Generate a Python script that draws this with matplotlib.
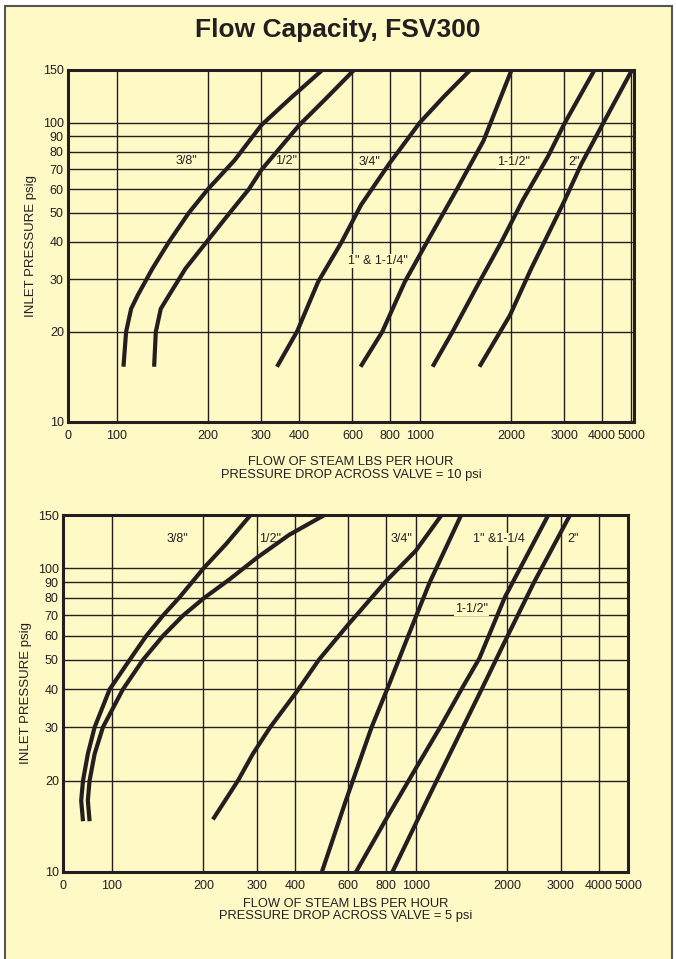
import matplotlib
matplotlib.use('Agg')
import matplotlib.pyplot as plt
from matplotlib.patches import Rectangle

# =============================================================================
#  Data (flow lbs/h, inlet pressure psig)
# =============================================================================
x_ticks = [69, 100, 200, 300, 400, 600, 800, 1000, 2000, 3000, 4000, 5000]
x_tick_labels = ['0', '100', '200', '300', '400', '600', '800', '1000',
                 '2000', '3000', '4000', '5000']
y_ticks = [10, 20, 30, 40, 50, 60, 70, 80, 90, 100, 150]
y_tick_labels = [str(v) for v in y_ticks]

# --- pressure drop 10 psi ---
top_38_flow = [105.2, 107.3, 111.5, 117.2, 131.2, 148.7, 172.9, 200, 244.8, 300, 374, 477]
top_38_pres = [15.3, 20, 23.9, 26.5, 32.6, 40, 50, 60, 74.9, 98.1, 120.6, 150]
top_12_flow = [132.8, 134.5, 139.7, 148.7, 168.7, 198, 236, 273, 300, 400, 491, 607]
top_12_pres = [15.3, 20, 23.9, 26.5, 32.6, 40, 50, 60, 69.5, 98.1, 120.6, 150]
top_34_flow = [338, 394, 462, 553, 641, 793, 1000, 1200, 1468]
top_34_pres = [15.3, 20.1, 29.4, 40, 53.2, 72.9, 100, 122, 150]
top_1_flow = [638, 752, 893, 1058, 1328, 1625, 2010]
top_1_pres = [15.3, 20, 29.4, 40, 60, 87.1, 150]
top_112_flow = [1103, 1283, 1575, 1862, 2194, 2648, 3000, 3777]
top_112_pres = [15.3, 20, 29.4, 40, 55.3, 76.9, 99, 150]
top_2_flow = [1575, 1985, 2336, 2581, 3000, 3420, 4000, 5023]
top_2_pres = [15.3, 22.7, 32.6, 40, 54.6, 72.9, 98, 150]

# --- pressure drop 5 psi ---
bot_38_flow = [80.3, 79.2, 80.3, 83.3, 87.7, 98.3, 114.4, 129.8, 147.3, 167.2, 200, 238, 286]
bot_38_pres = [14.7, 17.2, 20, 24.5, 30, 40, 50, 60, 70, 80.5, 100, 120.6, 150]
bot_12_flow = [84.4, 83.3, 84.4, 87.7, 93.4, 108.7, 126.5, 147.3, 171.5, 200, 244, 300, 383, 501]
bot_12_pres = [14.7, 17.2, 20, 24.5, 30, 40, 50, 60, 70, 79.6, 92.1, 108.4, 129, 150]
bot_34_flow = [215, 260, 291, 332, 406, 480, 535, 600, 800, 1000, 1217]
bot_34_pres = [14.9, 20, 24.5, 30, 39.3, 50, 57, 65.4, 91, 114.3, 150]
bot_1_flow = [491, 589, 716, 812, 945, 1112, 1412]
bot_1_pres = [10, 17.2, 30, 40.8, 60, 90, 150]
bot_112_flow = [636, 798, 1005, 1204, 1431, 1621, 1967, 2733]
bot_112_pres = [10, 14.9, 22.1, 30, 40.8, 50.6, 80.5, 150]
bot_2_flow = [838, 1089, 1431, 1665, 1941, 2452, 3222]
bot_2_pres = [10, 17.2, 30, 40.8, 56, 90, 150]

top_labels = [('3/8"', 169.6, 74.5), ('1/2"', 362, 74.5), ('3/4"', 685, 74),
              ('1" & 1-1/4"', 729, 34.5), ('1-1/2"', 2036, 74), ('2"', 3243, 74)]
bot_labels = [('3/8"', 164, 124.6), ('1/2"', 331, 124.6), ('3/4"', 895, 124.6),
              ('1" &1-1/4', 1877, 124.6), ('2"', 3286, 124.6), ('1-1/2"', 1529, 73.4)]

# =============================================================================
#  Style
# =============================================================================
BG = '#FFF9C6'
INK = '#231F20'
plt.rcParams['font.family'] = ['Liberation Sans', 'DejaVu Sans']

fig = plt.figure(figsize=(6.76, 9.59), dpi=100)
fig.patch.set_facecolor('white')
fig.patches.append(Rectangle((5 / 676, -0.01), 667 / 676, 1.01 - 6 / 959,
                             transform=fig.transFigure, facecolor=BG,
                             edgecolor='#555555', linewidth=1.5, zorder=-5))

fig.text(0.5, 1 - 30 / 959, 'Flow Capacity, FSV300', ha='center', va='center',
         fontsize=19, fontweight='bold', color=INK)


def draw_panel(rect, xmax, curves, labels, drop, xpad):
    ax = fig.add_axes(rect)
    ax.set_zorder(2)
    ax.set_facecolor(BG)
    ax.set_xscale('log')
    ax.set_yscale('log')
    ax.set_xlim(69, xmax)
    ax.set_ylim(10, 150)
    ax.set_xticks(x_ticks)
    ax.set_xticklabels(x_tick_labels)
    ax.set_yticks(y_ticks)
    ax.set_yticklabels(y_tick_labels)
    ax.minorticks_off()
    ax.tick_params(length=0, labelsize=9, colors=INK)
    ax.tick_params(axis='x', pad=6)
    ax.tick_params(axis='y', pad=3)
    ax.grid(True, color=INK, linewidth=1.0)
    ax.set_axisbelow(True)
    for s in ax.spines.values():
        s.set_linewidth(2.2)
        s.set_color(INK)
        s.set_zorder(5)
    for fx, py in curves:
        ax.plot(fx, py, color=INK, linewidth=3.0, solid_capstyle='butt',
                solid_joinstyle='round', zorder=4)
    for txt, lx, ly in labels:
        ax.text(lx, ly, txt, ha='center', va='center', fontsize=9, color=INK,
                zorder=3, bbox=dict(facecolor=BG, edgecolor='none', pad=0.6))
    ax.set_ylabel('INLET PRESSURE psig', fontsize=9.5, color=INK, labelpad=4)
    ax.set_xlabel('FLOW OF STEAM LBS PER HOUR\nPRESSURE DROP ACROSS VALVE = %s psi' % drop,
                  fontsize=9.3, color=INK, labelpad=xpad, linespacing=1.05)
    return ax


top_curves = [(top_38_flow, top_38_pres), (top_12_flow, top_12_pres),
              (top_34_flow, top_34_pres), (top_1_flow, top_1_pres),
              (top_112_flow, top_112_pres), (top_2_flow, top_2_pres)]
bot_curves = [(bot_38_flow, bot_38_pres), (bot_12_flow, bot_12_pres),
              (bot_34_flow, bot_34_pres), (bot_1_flow, bot_1_pres),
              (bot_112_flow, bot_112_pres), (bot_2_flow, bot_2_pres)]

draw_panel([68 / 676, 1 - 422 / 959, 566 / 676, 352 / 959], 5100, top_curves, top_labels, '10', 10)
draw_panel([63 / 676, 1 - 872 / 959, 565 / 676, 357 / 959], 5000, bot_curves, bot_labels, '5', 4)

fig.savefig('out.png', dpi=100, facecolor=fig.get_facecolor())
